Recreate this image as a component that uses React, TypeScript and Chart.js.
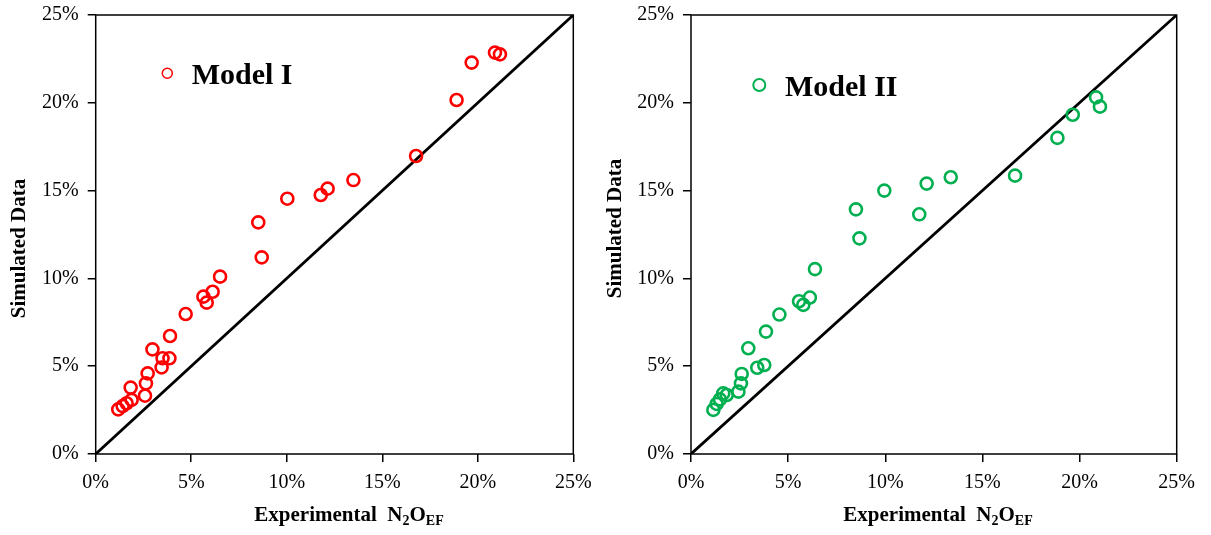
import React, { useEffect, useRef } from "react";
import { Chart, registerables } from "chart.js";

Chart.register(...registerables);

// ---------- data ----------
const tickValues = [0, 5, 10, 15, 20, 25];
const tickSuffix = "%";

const diagonalX = [0, 25];
const diagonalY = [0, 25];

const model1Label = "Model I";
const model1X = [1.18, 1.41, 1.62, 1.88, 1.83, 2.58, 2.63, 2.72, 2.97, 3.45, 3.5, 3.86, 3.89, 4.71, 5.64, 5.81, 6.12, 6.51, 8.69, 8.51, 10.03, 11.78, 12.14, 13.49, 16.77, 18.89, 19.68, 20.9, 21.16];
const model1Y = [2.54, 2.73, 2.89, 3.08, 3.78, 3.32, 4.02, 4.59, 5.96, 4.93, 5.45, 5.45, 6.72, 7.97, 8.96, 8.62, 9.24, 10.1, 11.2, 13.19, 14.54, 14.75, 15.11, 15.6, 16.97, 20.16, 22.29, 22.86, 22.76];

const model2Label = "Model II";
const model2X = [1.15, 1.32, 1.49, 1.66, 1.84, 2.44, 2.57, 2.61, 2.95, 3.41, 3.77, 3.86, 4.55, 5.56, 5.78, 6.12, 6.38, 8.67, 8.49, 9.95, 11.75, 12.13, 13.37, 16.68, 18.86, 19.65, 20.85, 21.05];
const model2Y = [2.51, 2.85, 3.11, 3.45, 3.36, 3.55, 4.02, 4.56, 6.02, 4.91, 5.07, 6.97, 7.94, 8.7, 8.49, 8.91, 10.53, 12.28, 13.93, 15.0, 13.65, 15.4, 15.76, 15.85, 18.0, 19.32, 20.31, 19.78];

const yTitleText = "Simulated Data";
// [text, isSubscript]
const xTitleParts: [string, boolean][] = [
  ["Experimental  ", false],
  ["N", false],
  ["2", true],
  ["O", false],
  ["EF", true],
];

// ---------- layout / style ----------
const SERIF = "'Liberation Serif', 'Times New Roman', serif";

type Panel = {
  left: number;
  width: number;
  yAxisWidth: number;
  rightPad: number;
  color: string;
  label: string;
  xs: number[];
  ys: number[];
  legendX: number;
  legendY: number;
  legendR: number;
  legendLW: number;
  legendTextX: number;
  legendBaseline: number;
  yTitleX: number;
  yTitleY: number;
  xTitleCenter: number;
  xTitleBaseline: number;
};

const panels: Panel[] = [
  {
    left: 0, width: 600, yAxisWidth: 95.7, rightPad: 26.7,
    color: "#FF0000", label: model1Label, xs: model1X, ys: model1Y,
    legendX: 167.3, legendY: 73.3, legendR: 5, legendLW: 1.5,
    legendTextX: 191.7, legendBaseline: 84,
    yTitleX: 20, yTitleY: 248.5,
    xTitleCenter: 349, xTitleBaseline: 521,
  },
  {
    left: 600, width: 611, yAxisWidth: 91, rightPad: 34.3,
    color: "#00B050", label: model2Label, xs: model2X, ys: model2Y,
    legendX: 159.3, legendY: 85, legendR: 6, legendLW: 2,
    legendTextX: 185, legendBaseline: 95.5,
    yTitleX: 16, yTitleY: 228.5,
    xTitleCenter: 338, xTitleBaseline: 521,
  },
];

const HEIGHT = 535;
const PLOT_TOP = 15;
const PLOT_BOTTOM = 454;

const decorPlugin = {
  id: "panelDecor",
  afterDraw(chart: any, _args: any, opts: any) {
    const { ctx, chartArea: a } = chart;
    ctx.save();
    // frame
    ctx.strokeStyle = "#000";
    ctx.lineWidth = 1.5;
    ctx.strokeRect(a.left, a.top, a.right - a.left, a.bottom - a.top);

    // legend
    ctx.beginPath();
    ctx.arc(opts.legendX, opts.legendY, opts.legendR, 0, Math.PI * 2);
    ctx.strokeStyle = opts.color;
    ctx.lineWidth = opts.legendLW;
    ctx.stroke();
    ctx.fillStyle = "#000";
    ctx.font = `bold 30px ${SERIF}`;
    ctx.textAlign = "left";
    ctx.textBaseline = "alphabetic";
    ctx.fillText(opts.label, opts.legendTextX, opts.legendBaseline);

    // y title
    ctx.save();
    ctx.translate(opts.yTitleX, opts.yTitleY);
    ctx.rotate(-Math.PI / 2);
    ctx.font = `bold 21px ${SERIF}`;
    ctx.textAlign = "center";
    ctx.textBaseline = "middle";
    ctx.fillText(yTitleText, 0, 0);
    ctx.restore();

    // x title with subscripts
    const mainFont = `bold 21px ${SERIF}`;
    const subFont = `bold 14px ${SERIF}`;
    let total = 0;
    const widths = xTitleParts.map(([t, sub]) => {
      ctx.font = sub ? subFont : mainFont;
      const w = ctx.measureText(t).width;
      total += w;
      return w;
    });
    let x = opts.xTitleCenter - total / 2;
    ctx.textAlign = "left";
    ctx.textBaseline = "alphabetic";
    xTitleParts.forEach(([t, sub], i) => {
      ctx.font = sub ? subFont : mainFont;
      ctx.fillText(t, x, opts.xTitleBaseline + (sub ? 4 : 0));
      x += widths[i];
    });
    ctx.restore();
  },
};

function makeScale(axis: "x" | "y", p: Panel) {
  return {
    type: "linear",
    min: tickValues[0],
    max: tickValues[tickValues.length - 1],
    afterBuildTicks: (s: any) => {
      s.ticks = tickValues.map((v) => ({ value: v }));
    },
    afterFit: (s: any) => {
      if (axis === "x") {
        s.height = HEIGHT - PLOT_BOTTOM;
        s.paddingLeft = 0;
        s.paddingRight = 0;
      } else {
        s.width = p.yAxisWidth;
        s.paddingTop = 0;
        s.paddingBottom = 0;
      }
    },
    ticks: {
      padding: 9,
      color: "#000",
      autoSkip: false,
      maxRotation: 0,
      font: { family: SERIF, size: 20 },
      callback: (v: any) => v + tickSuffix,
    },
    grid: {
      display: true,
      drawOnChartArea: false,
      drawTicks: true,
      tickLength: 8,
      color: "#000",
      lineWidth: 1.5,
    },
    border: { display: false },
  };
}

function ScatterPanel({ p }: { p: Panel }) {
  const ref = useRef<HTMLCanvasElement | null>(null);
  useEffect(() => {
    if (!ref.current) return;
    const chart = new Chart(ref.current, {
      type: "scatter",
      data: {
        datasets: [
          {
            label: p.label,
            data: p.xs.map((x, i) => ({ x, y: p.ys[i] })),
            pointStyle: "circle",
            pointRadius: 6,
            pointBorderWidth: 2.6,
            borderColor: p.color,
            backgroundColor: "rgba(0,0,0,0)",
            order: 1,
          },
          {
            label: "1:1",
            data: diagonalX.map((x, i) => ({ x, y: diagonalY[i] })),
            showLine: true,
            borderColor: "#000",
            borderWidth: 2.8,
            pointRadius: 0,
            order: 2,
          },
        ],
      } as any,
      options: {
        animation: false,
        responsive: false,
        maintainAspectRatio: false,
        layout: { padding: { top: PLOT_TOP, right: p.rightPad, left: 0, bottom: 0 } },
        plugins: {
          legend: { display: false },
          tooltip: { enabled: false },
          panelDecor: {
            color: p.color,
            label: p.label,
            legendX: p.legendX,
            legendY: p.legendY,
            legendR: p.legendR,
            legendLW: p.legendLW,
            legendTextX: p.legendTextX,
            legendBaseline: p.legendBaseline,
            yTitleX: p.yTitleX,
            yTitleY: p.yTitleY,
            xTitleCenter: p.xTitleCenter,
            xTitleBaseline: p.xTitleBaseline,
          },
        } as any,
        scales: {
          x: makeScale("x", p) as any,
          y: makeScale("y", p) as any,
        },
      },
      plugins: [decorPlugin],
    });
    return () => chart.destroy();
  }, [p]);
  return (
    <div style={{ position: "absolute", left: p.left, top: 0, width: p.width, height: HEIGHT }}>
      <canvas ref={ref} width={p.width} height={HEIGHT} style={{ display: "block" }} />
    </div>
  );
}

export default function App() {
  return (
    <div style={{ position: "absolute", left: 0, top: 0, width: 1211, height: HEIGHT, background: "#fff" }}>
      {panels.map((p, i) => (
        <ScatterPanel key={i} p={p} />
      ))}
    </div>
  );
}
